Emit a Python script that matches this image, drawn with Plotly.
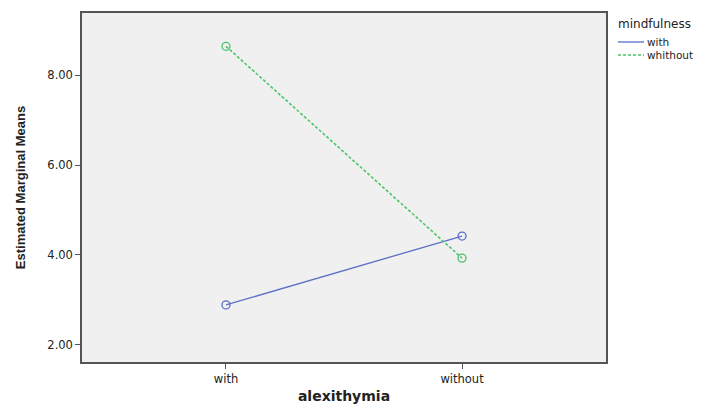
import plotly.graph_objects as go

categories = ["with", "without"]
with_mind = [2.89, 4.42]
without_mind = [8.64, 3.93]
series_names = ["with", "whithout"]
legend_title = "mindfulness"
y_ticks = [2, 4, 6, 8]
y_tick_labels = ["2.00", "4.00", "6.00", "8.00"]

blue = "#5a6ec6"
green = "#4cc467"
dot = "3px,2px"

fig = go.Figure()
fig.add_trace(go.Scatter(
    x=[0, 1], y=with_mind, name=series_names[0], mode="lines+markers", showlegend=False,
    line=dict(color=blue, width=1.3, dash="solid"),
    marker=dict(symbol="circle-open", size=8, color=blue, line=dict(width=1.3)),
))
fig.add_trace(go.Scatter(
    x=[0, 1], y=without_mind, name=series_names[1], mode="lines+markers", showlegend=False,
    line=dict(color=green, width=1.6, dash=dot),
    marker=dict(symbol="circle-open", size=8, color=green, line=dict(width=1.3)),
))

# compact legend (SPSS style: lines only, tight rows)
leg_font = dict(family="DejaVu Sans, sans-serif", size=10.5, color="#222")
fig.add_annotation(xref="paper", yref="paper", x=1.021, y=0.9685, text=legend_title,
                   showarrow=False, xanchor="left", yanchor="middle", borderpad=0,
                   font=dict(family="DejaVu Sans, sans-serif", size=12, color="#222"))
leg_rows = [0.917, 0.8797]
leg_styles = [dict(color=blue, width=1.3, dash="solid"), dict(color=green, width=1.6, dash=dot)]
for name, yy, st in zip(series_names, leg_rows, leg_styles):
    fig.add_shape(type="line", xref="paper", yref="paper", x0=1.0229, x1=1.0725, y0=yy, y1=yy, line=st)
    fig.add_annotation(xref="paper", yref="paper", x=1.0763, y=yy, text=name, showarrow=False,
                       xanchor="left", yanchor="middle", borderpad=0, font=leg_font)

fig.update_layout(
    width=696, height=396,
    margin=dict(l=74, r=98, t=5, b=42, autoexpand=False),
    paper_bgcolor="white", plot_bgcolor="#f0f0f0",
    font=dict(family="DejaVu Sans, sans-serif", size=11, color="#222"),
    showlegend=False,
    xaxis=dict(
        range=[-0.61, 1.61], tickmode="array", tickvals=[0, 1], ticktext=categories,
        showgrid=False, zeroline=False, showline=True, linecolor="#555", linewidth=1.5,
        mirror=True, ticks="outside", ticklen=5, tickcolor="#555", automargin=False,
        tickfont=dict(size=11.5),
        title=dict(text="<b>alexithymia</b>", font=dict(size=14, family="DejaVu Sans, sans-serif"), standoff=10),
    ),
    yaxis=dict(
        range=[1.62, 9.38], tickmode="array", tickvals=y_ticks, ticktext=y_tick_labels,
        showgrid=False, zeroline=False, showline=True, linecolor="#555", linewidth=1.5,
        mirror=True, ticks="outside", ticklen=5, tickcolor="#555", automargin=False,
        tickfont=dict(size=11.5),
        title=dict(text="<b>Estimated Marginal Means</b>", font=dict(size=13, family="Liberation Sans Narrow, Liberation Sans, sans-serif"), standoff=19),
    ),
)

fig.write_html("out.html")
